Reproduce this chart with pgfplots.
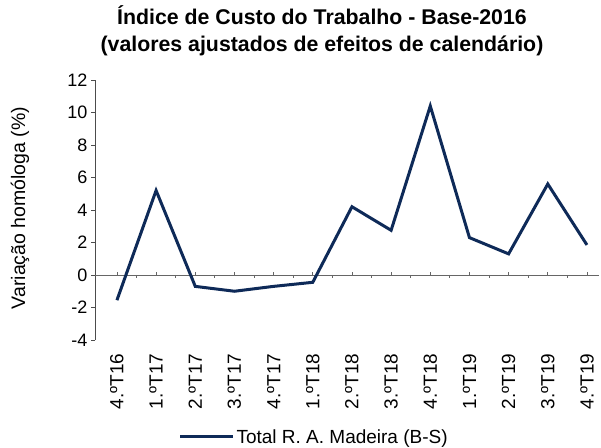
\documentclass[border=0pt]{standalone}
\usepackage{fontspec}
\setmainfont{Liberation Sans}
\usepackage{pgfplots}
\pgfplotsset{compat=1.18}
\definecolor{navy}{RGB}{14,42,88}
\pgfplotsset{longline/.style={legend image code/.code={\draw[#1] (0bp,0bp) -- (53bp,0bp);}}}
\begin{document}
\begin{tikzpicture}
\useasboundingbox (0,0) rectangle (601bp,448bp);
\node[font=\bfseries\fontsize{21.3bp}{24bp}\selectfont, align=center] at (322bp,417bp) {Índice de Custo do Trabalho - Base-2016\\[3bp](valores ajustados de efeitos de calendário)};
\begin{axis}[
  at={(95bp,108bp)}, anchor=south west,
  scale only axis, width=503.7bp, height=260bp,
  xmin=-0.56, xmax=12.3, ymin=-4, ymax=12,
  ytick={-4,-2,...,12},
  xtick={0,...,12},
  xticklabels={4.ºT16,1.ºT17,2.ºT17,3.ºT17,4.ºT17,1.ºT18,2.ºT18,3.ºT18,4.ºT18,1.ºT19,2.ºT19,3.ºT19,4.ºT19},
  x tick label style={rotate=90, anchor=east, font=\fontsize{19bp}{21bp}\selectfont},
  xticklabel shift=6bp,
  y tick label style={font=\fontsize{18bp}{20bp}\selectfont},
  /pgf/number format/assume math mode=true,
  axis x line*=bottom, axis y line*=left,
  x axis line style={draw=none},
  y axis line style={black!70, line width=0.8pt, -},
  major x tick style={draw=none},
  ytick style={black!70, line width=0.8pt},
  tick align=outside, major tick length=4bp,
  ylabel={Variação homóloga (\%)},
  ylabel style={font=\fontsize{19.5bp}{21bp}\selectfont, at={(axis description cs:-0.149,0.508)}, anchor=center},
  clip=false,
  legend style={at={(0.435,-0.373)}, anchor=center, draw=none, fill=none,
    font=\fontsize{19bp}{21bp}\selectfont},
  legend cell align=left,
]
\addplot[black!60, line width=0.8pt, forget plot] coordinates {(-0.56,0) (12.3,0)};
\addplot[ycomb, black!60, line width=0.8pt, mark=none, forget plot] coordinates {
(0,0.2) (1,0.2) (2,0.2) (3,0.2) (4,0.2) (5,0.2) (6,0.2) (7,0.2) (8,0.2) (9,0.2) (10,0.2) (11,0.2) (12,0.2)};
\addplot[ycomb, black!60, line width=0.8pt, mark=none, forget plot] coordinates {
(0.5,-0.2) (1.5,-0.2) (2.5,-0.2) (3.5,-0.2) (4.5,-0.2) (5.5,-0.2) (6.5,-0.2) (7.5,-0.2) (8.5,-0.2) (9.5,-0.2) (10.5,-0.2) (11.5,-0.2)};
\addplot[navy, line width=3bp, mark=none, longline] coordinates {
(0,-1.55) (1,5.2) (2,-0.7) (3,-1.0) (4,-0.7) (5,-0.45) (6,4.2) (7,2.75) (8,10.4) (9,2.3) (10,1.3) (11,5.6) (12,1.85)};
\addlegendentry{Total R. A. Madeira (B-S)}
\end{axis}
\end{tikzpicture}
\end{document}
